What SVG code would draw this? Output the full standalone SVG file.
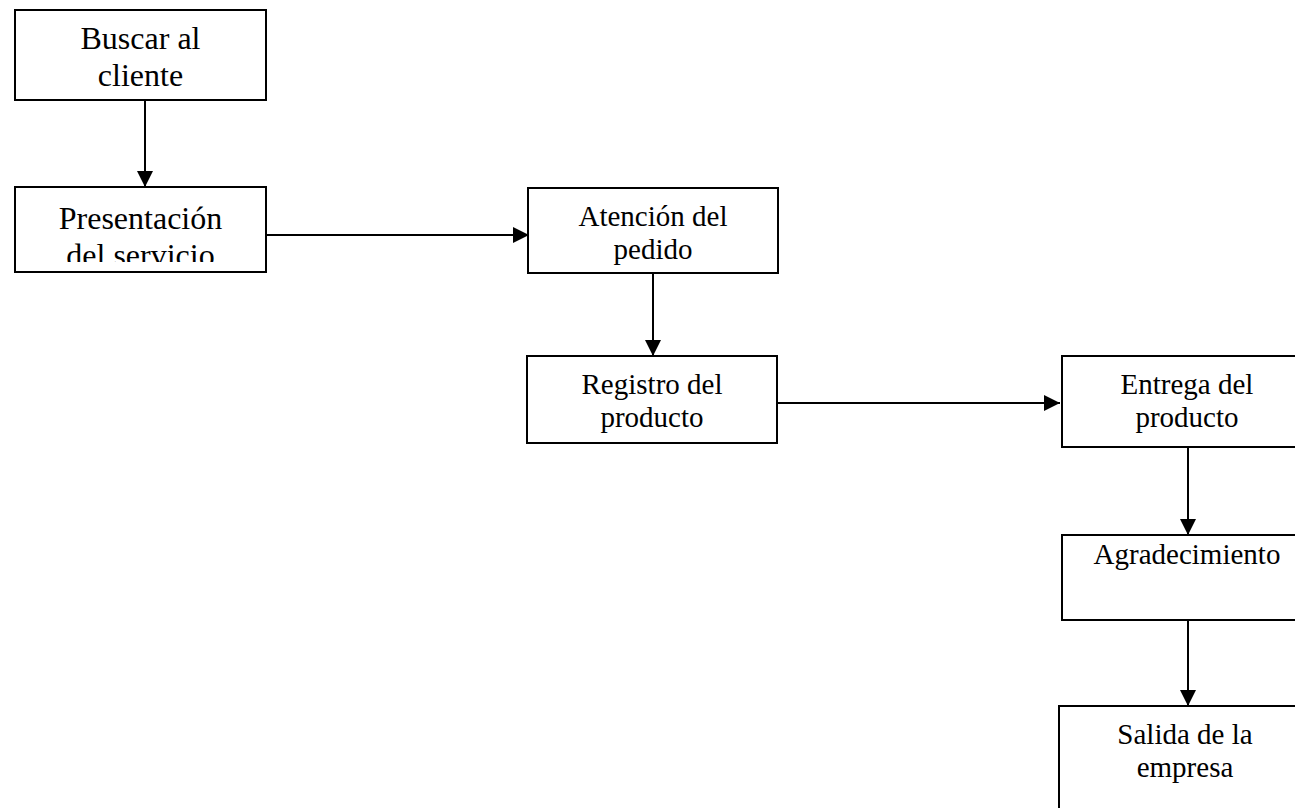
<svg xmlns="http://www.w3.org/2000/svg" width="1295" height="808" viewBox="0 0 1295 808">
  <style>
    .box { fill: #ffffff; stroke: #000000; stroke-width: 2; }
    .lbl { font-family: "Liberation Serif", "Times New Roman", serif; fill: #000000; text-anchor: middle; }
    .big { font-size: 32px; }
    .sm { font-size: 29px; }
    .edge { fill: none; stroke: #000000; stroke-width: 2; marker-end: url(#arrow); }
  </style>
  <defs>
    <marker id="arrow" markerUnits="userSpaceOnUse" markerWidth="17" markerHeight="17" refX="16" refY="8.5" orient="auto">
      <path d="M0,0.5 L16,8.5 L0,16.5 Z" fill="#000000"/>
    </marker>
    <clipPath id="clip2">
      <rect x="16" y="188" width="249" height="74"/>
    </clipPath>
  </defs>
  <rect width="1295" height="808" fill="#ffffff"/>

  <g id="connectors">
    <line class="edge" x1="145" y1="101" x2="145" y2="187"/>
    <line class="edge" x1="262" y1="235" x2="529" y2="235"/>
    <line class="edge" x1="653" y1="273" x2="653" y2="356"/>
    <line class="edge" x1="777" y1="403" x2="1060" y2="403"/>
    <line class="edge" x1="1188" y1="447" x2="1188" y2="535"/>
    <line class="edge" x1="1188" y1="620" x2="1188" y2="706"/>
  </g>

  <g id="n1">
    <rect class="box" x="15" y="10" width="251" height="90"/>
    <text class="lbl big" x="140.5" y="49">Buscar al</text>
    <text class="lbl big" x="140.5" y="86">cliente</text>
  </g>

  <g id="n2">
    <rect class="box" x="15" y="187" width="251" height="85"/>
    <g clip-path="url(#clip2)">
      <text class="lbl big" x="140.5" y="229">Presentación</text>
      <text class="lbl big" x="140.5" y="266">del servicio</text>
    </g>
  </g>

  <g id="n3">
    <rect class="box" x="528" y="188" width="250" height="85"/>
    <text class="lbl sm" x="653" y="226">Atención del</text>
    <text class="lbl sm" x="653" y="259">pedido</text>
  </g>

  <g id="n4">
    <rect class="box" x="527" y="356" width="250" height="87"/>
    <text class="lbl sm" x="652" y="394">Registro del</text>
    <text class="lbl sm" x="652" y="427">producto</text>
  </g>

  <g id="n5">
    <rect class="box" x="1062" y="356" width="250" height="91"/>
    <text class="lbl sm" x="1187" y="394">Entrega del</text>
    <text class="lbl sm" x="1187" y="427">producto</text>
  </g>

  <g id="n6">
    <rect class="box" x="1062" y="535" width="250" height="85"/>
    <text class="lbl sm" x="1187" y="564">Agradecimiento</text>
  </g>

  <g id="n7">
    <rect class="box" x="1059" y="706" width="252" height="120"/>
    <text class="lbl sm" x="1185" y="744">Salida de la</text>
    <text class="lbl sm" x="1185" y="777">empresa</text>
  </g>
</svg>
